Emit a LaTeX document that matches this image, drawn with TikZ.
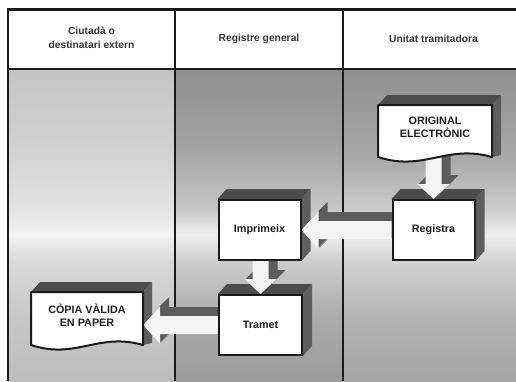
\documentclass[tikz,border=0pt]{standalone}
\usepackage{fontspec}
\setmainfont{Liberation Sans}
\usetikzlibrary{calc}

\definecolor{rim}{HTML}{1A1A1A}
\definecolor{facetop}{HTML}{4C4C4C}
\definecolor{faceside}{HTML}{5E5E5E}
\definecolor{arrowdark}{HTML}{5C5C5C}
\definecolor{arrowlight}{HTML}{F4F4F4}
\definecolor{headtext}{HTML}{383838}

% lane backgrounds: grey at top and bottom, a pale band just below the middle
\pgfdeclareverticalshading{laneleft}{100bp}{color(0bp)=(black!26); color(25bp)=(black!26); color(35bp)=(black!22); color(44bp)=(black!15); color(48.5bp)=(black!5); color(52.5bp)=(black!11); color(62.5bp)=(black!18); color(75bp)=(black!23); color(100bp)=(black!23)}
\pgfdeclareverticalshading{lanemid}{100bp}{color(0bp)=(black!39); color(25bp)=(black!39); color(35bp)=(black!33); color(44bp)=(black!20); color(48.5bp)=(black!6); color(52.5bp)=(black!22); color(62.5bp)=(black!36); color(75bp)=(black!44); color(100bp)=(black!44)}
\pgfdeclareverticalshading{laneright}{100bp}{color(0bp)=(black!35); color(25bp)=(black!35); color(35bp)=(black!30); color(44bp)=(black!18); color(48.5bp)=(black!6); color(52.5bp)=(black!20); color(60bp)=(black!33); color(75bp)=(black!44); color(100bp)=(black!44)}

\newcommand\boxfont{\fontsize{10.8}{12.8}\selectfont\bfseries}
\newcommand\headfont{\fontsize{10.3}{13.5}\selectfont\bfseries}

% extruded top and right faces of a rectangular step
\newcommand\boxfaces[1]{%
  \fill[facetop] (#1.north west) -- ++(9,-10) -- ($(#1.north east)+(9,-10)$) -- (#1.north east) -- cycle;
  \fill[faceside] (#1.north east) -- ++(9,-10) -- ($(#1.south east)+(9,-10)$) -- (#1.south east) -- cycle;}

% document sheet: node, half width, rise above centre, drop below centre
\newcommand\docfaces[4]{%
  \fill[facetop] ($(#1.center)+(-#2,-#3)$) -- ++(9,-10) -- ($(#1.center)+(#2+9,-#3-10)$) -- ($(#1.center)+(#2,-#3)$) -- cycle;
  \fill[faceside] ($(#1.center)+(#2,-#3)$) -- ++(9,-10) -- ($(#1.center)+(#2+9,#4-2)$) -- ($(#1.center)+(#2,#4)$) -- cycle;}
\newcommand\docfront[4]{%
  \filldraw[fill=white, draw=rim, line width=2pt, line join=round]
    ($(#1.center)+(-#2,-#3)$) -- ($(#1.center)+(#2,-#3)$) -- ($(#1.center)+(#2,#4)$)
    .. controls ($(#1.center)+(0.2*#2,#4-13)$) and ($(#1.center)+(-0.2*#2,#4+15)$) .. ($(#1.center)+(-#2,#4)$) -- cycle;}

% block arrows: style, from, to
\newcommand\downshape[3]{%
  \fill[#1] (#3) -- ($(#3)+(16,-15)$) -- ($(#3)+(8,-15)$) -- ($(#3 |- #2)+(8,0)$)
    -- ($(#3 |- #2)+(-8,0)$) -- ($(#3)+(-8,-15)$) -- ($(#3)+(-16,-15)$) -- cycle;}
\newcommand\leftshape[3]{%
  \fill[#1] (#3) -- ($(#3)+(17,-19)$) -- ($(#3)+(17,-9)$) -- ($(#3 -| #2)+(0,-9)$)
    -- ($(#3 -| #2)+(0,9)$) -- ($(#3)+(17,9)$) -- ($(#3)+(17,19)$) -- cycle;}
\newcommand\downblock[2]{%
  \foreach \k in {1,...,9}{\begin{scope}[transform canvas={shift={(\k,-\k)}}]\downshape{arrowdark}{#1}{#2}\end{scope}}
  \downshape{arrowlight}{#1}{#2}}
\newcommand\leftblock[2]{%
  \foreach \k in {1,...,9}{\begin{scope}[transform canvas={shift={(\k,-\k)}}]\leftshape{arrowdark}{#1}{#2}\end{scope}}
  \leftshape{arrowlight}{#1}{#2}}

\pgfdeclarelayer{lanes}
\pgfdeclarelayer{faces}
\pgfdeclarelayer{arrows}
\pgfdeclarelayer{fronts}
\pgfsetlayers{lanes,faces,arrows,fronts,main}

\begin{document}
\begin{tikzpicture}[x=1pt,y=-1pt,
  stepbox/.style={draw=rim, line width=2pt, fill=white, minimum width=82pt, minimum height=60pt,
    inner sep=0pt, font=\boxfont, text=black!88},
  doctxt/.style={align=center, inner sep=0pt, minimum height=20pt, font=\boxfont, text=black!88},
  headtxt/.style={align=center, inner sep=0pt, font=\headfont, text=headtext},
  laneline/.style={draw=rim, line width=1.8pt}]

\useasboundingbox (0,0) rectangle (516,381);

\begin{pgfonlayer}{lanes}
  \fill[white] (0,0) rectangle (516,381);
  \shade[shading=laneleft] (8,69) rectangle (175,381);
  \shade[shading=lanemid] (175,69) rectangle (343,381);
  \shade[shading=laneright] (343,69) rectangle (516,381);
  \draw[draw=rim, line width=2.6pt] (7,9.5) -- (516,9.5);
  \draw[draw=rim, line width=2pt] (8,9) -- (8,381);
  \draw[laneline] (8,69) -- (516,69);
  \draw[laneline] (175,9) -- (175,381);
  \draw[laneline] (343,9) -- (343,381);
\end{pgfonlayer}

% lane titles
\node[headtxt] (lane1) at (91.5,38) {Ciutadà o\\destinatari extern};
\node[headtxt] (lane2) at (259,38.5) {Registre general};
\node[headtxt] (lane3) at (433.5,38.5) {Unitat tramitadora};

% steps
\node[stepbox] (imp) at (259.5,230) {Imprimeix};
\node[stepbox] (reg) at (433.5,230) {Registra};
\node[stepbox, minimum width=83pt] (tram) at (260.5,325) {Tramet};

% documents
\node[doctxt, minimum width=114pt] (orig) at (435,127) {ORIGINAL\\ELECTRÒNIC};
\node[doctxt, minimum width=112pt] (copia) at (87,315) {CÒPIA VÀLIDA\\EN PAPER};

\begin{pgfonlayer}{faces}
  \boxfaces{imp}
  \boxfaces{reg}
  \boxfaces{tram}
  \docfaces{orig}{57}{22}{30}
  \docfaces{copia}{56}{23}{30}
\end{pgfonlayer}

\begin{pgfonlayer}{arrows}
  \downblock{reg.north |- orig.center}{reg.north}
  \leftblock{reg.west}{imp.east}
  \downblock{tram.north |- imp.south}{tram.north}
  \leftblock{tram.west}{copia.east |- tram.west}
\end{pgfonlayer}

\begin{pgfonlayer}{fronts}
  \docfront{orig}{57}{22}{30}
  \docfront{copia}{56}{23}{30}
\end{pgfonlayer}

\end{tikzpicture}
\end{document}
